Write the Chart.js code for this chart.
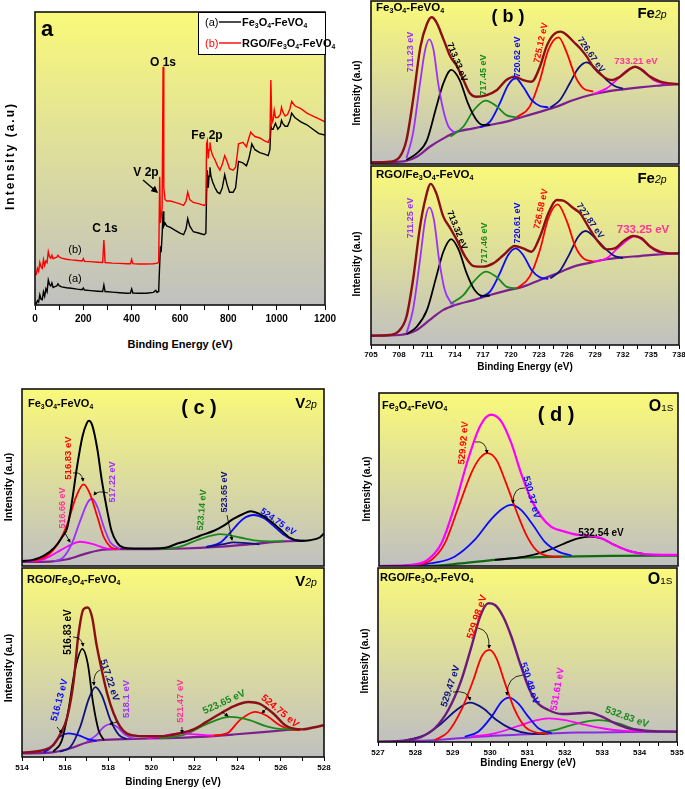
<!DOCTYPE html>
<html>
<head>
<meta charset="utf-8">
<script src="https://cdn.jsdelivr.net/npm/chart.js@4.4.1/dist/chart.umd.min.js"></script>
<style>
  html, body { margin: 0; padding: 0; background: #fff; overflow: hidden; }
  #page { position: relative; width: 685px; height: 789px; overflow: hidden; font-family: "Liberation Sans", Arial, sans-serif; }
  #page canvas { position: absolute; }
  .t { position: absolute; white-space: nowrap; font-weight: bold; line-height: 1; }
  .t sub { font-size: 62%; vertical-align: -0.3em; line-height: 0; }
  .nar { font-family: "Liberation Sans Narrow", "Arial Narrow", "Liberation Sans", sans-serif; font-stretch: condensed; }
  #legend { position: absolute; left: 198px; top: 12px; width: 126px; height: 41px; background: #fff; border: 1px solid #000; }
  #arrows { position: absolute; left: 0; top: 0; }
</style>
</head>
<body>
<div id="page"></div>
<script>
// --- Panel (a): survey spectra ---
const surveyX = [0, 5, 10, 15, 20, 25, 30, 35, 40, 45, 50, 55, 60, 65, 70, 75, 80, 90, 95, 100, 110, 130, 150, 175, 195, 200, 205, 230, 260, 280, 285, 290, 320, 350, 380, 395, 400, 405, 430, 460, 490, 500, 505, 510, 512, 516, 519, 522, 526, 530, 533, 538, 545, 560, 580, 600, 615, 625, 632, 640, 655, 680, 700, 707, 710, 713, 717, 720, 724, 728, 735, 745, 755, 765, 775, 785, 795, 805, 820, 830, 838, 842, 860, 875, 885, 893, 897, 910, 930, 950, 965, 972, 976, 980, 985, 990, 995, 1005, 1015, 1020, 1025, 1035, 1045, 1055, 1062, 1075, 1100, 1125, 1150, 1175, 1200];
const surveyA = [1.0, 0.3, 1.5, 1.0, 3.5, 2.0, 1.8, 4.5, 3.0, 5.5, 4.5, 8.5, 7.0, 6.5, 7.5, 6.0, 6.2, 6.5, 7.2, 6.6, 6.2, 5.9, 5.7, 5.4, 5.2, 5.8, 5.1, 4.9, 4.7, 4.6, 6.8, 4.6, 4.4, 4.2, 4.0, 4.1, 5.5, 4.1, 4.0, 4.0, 4.3, 5.0, 4.3, 4.6, 5.5, 14, 20, 18, 24, 32, 27, 28, 27, 26.5, 25.5, 24.5, 24, 26, 29.5, 27, 25, 24.5, 24, 24.5, 38, 46, 40, 44, 47, 44, 42, 40, 38.5, 38, 40, 44.5, 41, 38.5, 38.5, 40, 46, 49, 48.5, 47.5, 50, 53, 55, 53, 52, 51.5, 51, 53, 61, 60, 60, 61, 62, 60, 61, 63, 62, 61, 61, 63, 65.5, 64, 62.5, 61.5, 60, 58.5, 58];
const surveyB = [10.2, 10.5, 12.5, 11.5, 14.5, 13.0, 12.5, 15.5, 13.5, 15.0, 14.5, 18.2, 16.5, 16.0, 17.0, 15.8, 16.0, 16.3, 17.0, 16.4, 16.0, 15.6, 15.4, 15.2, 15.0, 15.8, 14.9, 14.8, 14.6, 14.5, 22.2, 14.5, 14.3, 14.2, 14.1, 14.1, 15.6, 14.1, 14.0, 14.0, 14.1, 14.2, 14.2, 14.5, 16.0, 43.8, 28, 30, 33, 81.3, 40, 36, 35.5, 35.5, 35, 34.5, 34, 35.5, 38.5, 36, 35, 34.5, 34, 34.5, 55, 56, 50, 53, 55.5, 53, 51, 49.5, 47.5, 46, 48, 51, 49, 46.5, 46, 47, 52, 55, 55.5, 54, 57, 59, 58.5, 57.5, 57, 56, 55.5, 57, 76.8, 62, 63, 66.5, 64, 64, 65, 67.5, 66, 64.5, 65, 67, 69.5, 68, 67, 65.5, 64.5, 63.5, 62.5];
const surveyTicks = [0, 200, 400, 600, 800, 1000, 1200];

// --- Panel (b): Fe 2p, [eV, intensity] ---
const feTicks = [705, 708, 711, 714, 717, 720, 723, 726, 729, 732, 735, 738];
const fe1Env = [[705,1],[707,1.4],[708.1,4.5],[708.8,14.7],[709.5,39],[710.3,72],[711,86],[711.5,90],[712,87],[712.8,76],[713.5,66],[714.2,60],[714.9,51.5],[715.6,43.4],[716.3,41.3],[717.4,42.3],[718.5,45.4],[719.5,51.5],[720.4,53.6],[721.3,51.5],[722.2,50.5],[723.1,59.7],[723.8,72],[724.5,79],[725.3,81.2],[726,79],[726.7,75],[727.4,71],[728.1,66],[728.8,59.7],[729.9,53.6],[730.8,51.5],[731.7,53.6],[732.6,57.7],[733.3,59.7],[734,57.7],[734.9,53.6],[736,50.5],[737,49.5],[738,49]];
const fe1Bg = [[705,1],[708.1,1.4],[709.9,4.5],[711.3,10.6],[713.1,16.8],[714.2,19.8],[716,21.9],[717.75,24],[719.5,26],[721.3,29],[723.1,32],[724.9,35.2],[726.7,39.3],[728.5,42.3],[730.25,44.4],[732,45.8],[733.8,47],[735.6,48],[738,49]];
const fe1P1 = [[708.8,3.5],[709.5,18.8],[710.25,49.5],[710.8,70],[711.25,76.5],[711.7,70],[712.2,49.5],[712.75,33],[713.3,23],[714,19.2]];
const fe1P2 = [[708.8,2.5],[709.9,6.5],[711,14.7],[712,35],[712.75,49.5],[713.6,57.7],[714.5,51.5],[715.4,37],[716.3,27],[717,24],[717.75,24]];
const fe1P3 = [[713.5,16.8],[714.9,23],[716,33],[717.3,38.9],[718.5,35.2],[719.5,30],[720.6,28.6]];
const fe1P4 = [[716.7,22.5],[717.75,26],[718.8,37.2],[719.7,48.5],[720.5,52.6],[721.3,47.4],[722.2,39.3],[723.1,35.6],[724,34.8]];
const fe1P5 = [[720.6,28.6],[722,35.2],[723.1,51.5],[724,70],[725.1,77.7],[726,67.9],[726.9,53.6],[727.75,46.4],[728.8,44.4]];
const fe1P6 = [[724.2,34.5],[725.25,39.3],[726.3,49.5],[727.2,58.7],[728.1,62.4],[729.2,57.7],[730.25,51.5],[731.1,47.9],[732,46.2]];
const fe1P7 = [[728.8,43],[730.25,46.4],[731.3,51.5],[732.4,57.3],[733.3,59.7],[734.2,57.3],[735.25,51.5],[736.3,49.5],[737.4,49]];

const fe2Env = [[705,5.2],[707,5.6],[707.9,7.4],[708.8,15.8],[709.5,36.3],[710.25,66],[710.8,81],[711.4,90],[712,84.7],[712.75,71.7],[713.5,65.2],[714.2,58.7],[715.1,49.3],[716,44.1],[717,43.8],[718.1,45.6],[719.2,50.3],[720.4,55.3],[721.3,54],[722.2,52.1],[723.1,60.5],[724,73.6],[724.9,81],[725.6,80.6],[726.7,76.4],[727.4,73.6],[728.3,66],[729.2,58.7],[730.25,53.4],[731.1,54],[732.2,58.7],[733.1,60.9],[734,59.6],[734.9,55],[736,52],[737,51.2],[738,51.2]];
const fe2Bg = [[705,5.2],[708.1,5.6],[709.9,8.4],[711.3,14],[712.75,19.6],[714,22.3],[716,25.1],[717.75,27.9],[719.5,30.4],[721.3,32.6],[723.1,36.3],[724.9,40],[726.7,43.8],[728.5,46],[730.25,47.9],[732,49],[733.8,49.7],[735.6,50.5],[738,51.2]];
const fe2P1 = [[708.8,6.5],[709.5,19.6],[710.25,47.5],[710.8,69.8],[711.25,76.9],[711.75,69.8],[712.3,47.5],[712.9,30.7],[713.5,24.2],[714,22.3]];
const fe2P2 = [[708.8,6.1],[709.9,10.2],[711,19.6],[712,38.2],[712.75,52.1],[713.6,59.2],[714.4,53.1],[715.25,40],[716.1,30.7],[717,27.4],[717.75,27.6]];
const fe2P3 = [[713.5,22.9],[714.9,27.9],[716,35.4],[717.3,41],[718.5,37.8],[719.5,32.6],[720.6,31.5]];
const fe2P4 = [[716.7,26.6],[717.75,29.8],[718.8,40],[719.7,50.3],[720.5,54],[721.3,50.3],[722.2,41.9],[723.1,37.8],[724,37]];
const fe2P5 = [[720.6,31.5],[722,38.2],[723.1,53.1],[724,70.8],[725,78.6],[726,68.9],[726.9,54.9],[727.75,48.4],[728.8,46.6]];
const fe2P6 = [[724.2,37.2],[725.25,41.5],[726.3,51.2],[727.2,60.5],[728,63.7],[729.2,58.7],[730.25,53.1],[731.1,49.7],[732,48.6]];
const fe2P7 = [[728.8,46.6],[730.25,48.4],[731.3,53.4],[732.4,58.3],[733.2,60.9],[734.2,58.3],[735.25,53.4],[736.3,51.2],[737.4,51]];

// --- Panel (c): V 2p ---
const vTicks = [514, 516, 518, 520, 522, 524, 526, 528];
const v1Data = [[514,2.8],[514.5,3.4],[515,5.7],[515.5,10.4],[515.85,16.1],[516.1,21.8],[516.3,35.1],[516.55,56],[516.8,73],[517,80.6],[517.1,82],[517.25,79.7],[517.5,65.5],[517.7,48.4],[517.95,31.3],[518.15,19.9],[518.4,13.3],[518.7,10.4],[519.2,9.9],[519.9,9.9],[520.7,10.4],[521.2,12.7],[521.65,14.2],[522.25,17.1],[522.9,19.9],[523.35,22.8],[523.8,26.6],[524.25,29.4],[524.6,30.9],[525,29.4],[525.5,25.6],[525.95,20.9],[526.4,16.1],[526.9,14.2],[527.35,14.6],[527.8,16.1],[528,18.4]];
const v1Bg = [[514,2.3],[515.3,2.5],[516.1,3.8],[516.85,6.6],[517.6,8.9],[518.4,9.5],[519.9,9.5],[521.5,9.9],[523,10.8],[524.6,12.3],[526.1,13.9],[527.1,14.2]];
const v1P1 = [[514.2,2.5],[515,3.8],[515.6,7.6],[516.1,11],[516.7,13.7],[517.3,12.3],[517.9,10],[518.55,9.5]];
const v1P2 = [[514.5,2.8],[515.15,5.7],[515.7,13.3],[516.1,23.7],[516.5,38.9],[516.85,46.1],[517.15,40.8],[517.5,27.5],[517.8,16.1],[518.1,10.8],[518.4,9.5]];
const v1P3 = [[515.5,2.8],[515.9,4.7],[516.3,12.3],[516.7,25.6],[517.05,36],[517.25,38],[517.5,33.2],[517.8,21.8],[518.1,13.3],[518.5,9.9]];
const v1P4 = [[520.4,9.5],[521.3,10.8],[522.25,15.2],[523.2,18],[524.1,16.1],[525,14.2],[526.1,13.9]];
const v1P5 = [[522.55,10.8],[523.35,12.3],[523.8,13.3],[524.4,12.9],[525,12.3]];
const v1P6 = [[522.55,10.8],[523.2,13.3],[523.8,20.9],[524.25,26.6],[524.75,28.8],[525.2,27.1],[525.65,22.8],[526.1,18],[526.6,14.8],[527,14.2]];

const v2Env = [[514,2.3],[515,3.7],[515.45,6.3],[515.75,11.6],[516.1,21.2],[516.4,40.5],[516.6,63.3],[516.85,78.2],[517.05,79.1],[517.25,73.9],[517.45,59.8],[517.7,45.8],[517.95,33.5],[518.25,23],[518.55,16],[518.85,12.5],[519.3,11.2],[520.1,11],[520.7,11.2],[521.3,12.5],[521.95,14.6],[522.55,18.6],[523.2,23],[523.8,26.8],[524.5,29.1],[525,28.2],[525.65,23],[526.2,16.8],[526.55,15.1],[527,14.6],[527.5,15.6],[528,16.8]];
const v2Bg = [[514,1.9],[515.3,2.3],[516.25,4.6],[517,7.7],[517.6,8.9],[519.2,9.6],[520.7,10],[522.25,10.7],[523.8,11.9],[525.3,13.3],[526.6,14.6]];
const v2P1 = [[515,2.5],[515.3,4.6],[515.75,10.7],[516.15,12.5],[516.6,11.6],[517.1,9.3],[517.45,8.6]];
const v2P2 = [[515.45,2.8],[515.85,8.9],[516.15,24.7],[516.45,45.8],[516.8,57.2],[517.05,49.3],[517.3,28.2],[517.55,14.2],[517.8,8.9]];
const v2P3 = [[515.75,2.8],[516.25,5.4],[516.7,16],[517.1,30.9],[517.4,37],[517.7,32.6],[518.1,19.5],[518.5,11.6],[518.85,9.5]];
const v2P4 = [[517,8.1],[517.45,11.6],[517.8,16],[518.1,17.4],[518.4,16],[518.8,11.6],[519.2,9.8]];
const v2P5 = [[519.8,9.8],[520.55,11.2],[521.3,12.5],[522.1,11.9],[522.9,11.2]];
const v2P6 = [[520.4,9.8],[521.6,12.1],[522.55,17.4],[523.65,21.2],[524.55,19.5],[525.3,16.3],[526.1,14.7],[526.9,14.6]];
const v2P7 = [[522.55,11.2],[523.5,12.5],[524.1,19.5],[524.8,23.9],[525.3,22.1],[525.95,16.8],[526.4,14.6],[526.9,14.2]];

// --- Panel (d): O 1s ---
const oTicks = [527, 528, 529, 530, 531, 532, 533, 534, 535];
const o1Env = [[527,0],[527.87,0.6],[528.3,3.5],[528.67,13.1],[529.02,34.4],[529.38,61.4],[529.7,80.7],[530,87.5],[530.27,83.6],[530.54,71],[530.8,53.7],[531.08,38.2],[531.34,28.6],[531.6,22.8],[531.97,19.9],[532.33,18],[532.64,17.6],[532.95,16],[533.3,12.2],[533.66,8.9],[534.1,6.9],[535,6.4]];
const o1Bg = [[527,0],[528.3,0],[529.2,1.5],[530.1,3.5],[531,5],[531.9,5.4],[533.2,5.8],[535,6]];
const o1P1 = [[527.87,0.2],[528.4,3.5],[528.76,13.1],[529.1,32.4],[529.47,53.7],[529.7,62.4],[529.9,65.3],[530.14,61.4],[530.4,47.9],[530.68,31.5],[530.94,18],[531.2,9.3],[531.52,5.8],[531.88,5.4]];
const o1P2 = [[527.87,0.2],[528.5,1.9],[529.02,5.4],[529.56,15.1],[530,27],[530.32,33.4],[530.54,35.3],[530.8,32.4],[531.12,23.7],[531.43,14.1],[531.8,8.3],[532.15,6]];
const o1P3 = [[530.1,3.5],[530.9,5.4],[531.43,8.3],[531.97,13.1],[532.33,16],[532.64,17],[532.95,16],[533.3,12.2],[533.66,8.9],[534.1,6.9]];

const o2Env = [[527,0.2],[527.7,0.8],[528.16,3],[528.52,7.9],[528.88,18.4],[529.23,35.6],[529.5,54.8],[529.73,72],[529.95,79.7],[530.13,78.7],[530.35,72],[530.57,60.5],[530.8,45.2],[531.02,31.8],[531.24,23.2],[531.56,18.4],[531.92,16.1],[532.36,16.5],[532.63,16.9],[532.99,14.6],[533.35,10.7],[533.7,7.9],[534.15,6.5],[535,5.9]];
const o2Bg = [[527,0],[528.34,0.8],[529.68,3],[531.02,4.4],[532.36,5.4],[533.7,5.7],[535,5.9]];
const o2P1 = [[527.7,0.8],[528.25,4],[528.7,10.7],[529.1,18.4],[529.46,22.6],[529.82,19.3],[530.17,12.6],[530.57,7.5],[531.02,5],[531.47,4.6]];
const o2P2 = [[528.52,1.1],[528.88,5.9],[529.23,18.4],[529.55,35.6],[529.77,49],[529.98,52.9],[530.17,48.1],[530.4,33.7],[530.66,18.4],[530.93,8.8],[531.24,5.4],[531.56,4.6]];
const o2P3 = [[529.32,3],[529.68,5.9],[530.04,14.6],[530.31,23.2],[530.51,25.5],[530.75,22.2],[531.02,14.6],[531.29,7.9],[531.65,5]];
const o2P4 = [[529.5,3],[530.13,5],[530.75,9.2],[531.2,12.3],[531.56,13.6],[532,12.6],[532.45,10.3],[532.99,7.9],[533.52,6.5],[534.15,5.9]];
const o2P5 = [[531.29,5],[531.74,6.9],[532.27,10.3],[532.9,12.6],[533.43,10.7],[533.88,7.3],[534.33,5.9]];

// --- Colours ---
const C = {
  env: '#8b0f14', bg: '#7d1f8e', violet: '#9b30ff', black: '#000000', green: '#1b8a1b',
  blue: '#0a0aff', red: '#ff0000', navy: '#101080', magenta: '#ff00ff', pink: '#ff3399',
  darkGreen: '#0f6a12', plum: '#6c1a7c', lilac: '#8a2be2'
};

const page = document.getElementById('page');
Chart.defaults.font.family = '"Liberation Sans", Arial, sans-serif';

const frame = {
  id: 'frame',
  beforeDraw(chart) {
    const { ctx, chartArea: a } = chart;
    const g = ctx.createLinearGradient(0, a.top, 0, a.bottom);
    g.addColorStop(0, '#f9f97a');
    g.addColorStop(1, '#c0c0c0');
    ctx.save();
    ctx.fillStyle = g;
    ctx.fillRect(a.left, a.top, a.right - a.left, a.bottom - a.top);
    ctx.restore();
  },
  afterDraw(chart) {
    const { ctx, chartArea: a } = chart;
    ctx.save();
    ctx.strokeStyle = '#111';
    ctx.lineWidth = 1.6;
    ctx.strokeRect(a.left, a.top, a.right - a.left, a.bottom - a.top);
    ctx.restore();
  }
};

const pts = arr => arr.map(([x, y]) => ({ x, y }));

function curve(arr, color, width) {
  return {
    data: pts(arr), borderColor: color, borderWidth: width || 1.8,
    pointRadius: 0, fill: false, cubicInterpolationMode: 'monotone'
  };
}

function panel(area, range, datasets, axis) {
  const padL = 20, padR = 20, padT = 4;
  const axisH = axis ? axis.h : 0;
  const w = area.r - area.l, h = area.b - area.t;
  const cv = document.createElement('canvas');
  cv.width = w + padL + padR;
  cv.height = h + padT + axisH + (axis ? 0 : 4);
  cv.style.left = (area.l - padL) + 'px';
  cv.style.top = (area.t - padT) + 'px';
  page.appendChild(cv);

  const x = { type: 'linear', min: range[0], max: range[1], display: !!axis };
  if (axis) {
    Object.assign(x, {
      afterFit: s => { s.height = axisH; },
      border: { display: false },
      grid: { drawOnChartArea: false, drawTicks: true, tickLength: axis.tick, color: '#000', lineWidth: 1 },
      ticks: {
        stepSize: axis.step, autoSkip: false, maxRotation: 0, minRotation: 0,
        padding: axis.pad, color: '#000',
        font: { size: axis.size, weight: 'bold', family: axis.family || undefined },
        callback: v => axis.labels.includes(v) ? String(v) : ''
      }
    });
  }

  return new Chart(cv, {
    type: 'line',
    data: { datasets },
    options: {
      responsive: false, animation: false, events: [],
      layout: { padding: { left: padL, right: padR, top: padT, bottom: axis ? 0 : 4 } },
      plugins: { legend: { display: false }, tooltip: { enabled: false } },
      scales: { x, y: { display: false, min: 0, max: 100 } }
    },
    plugins: [frame]
  });
}

// --- Charts ---
panel({ l: 35, t: 12, r: 325, b: 305 }, [0, 1200], [
  { data: surveyX.map((x, i) => ({ x, y: surveyB[i] })), borderColor: C.red, borderWidth: 1.4, pointRadius: 0, tension: 0 },
  { data: surveyX.map((x, i) => ({ x, y: surveyA[i] })), borderColor: C.black, borderWidth: 1.4, pointRadius: 0, tension: 0 }
], { h: 26, tick: 5, pad: 3, step: 100, size: 10, labels: surveyTicks, family: '"Liberation Sans Narrow", "Liberation Sans", sans-serif' });

panel({ l: 371, t: 1, r: 679, b: 164 }, [705, 738], [
  curve(fe1Env, C.env, 2.4), curve(fe1P1, C.violet), curve(fe1P2, C.black), curve(fe1P3, C.green),
  curve(fe1P4, C.blue), curve(fe1P5, C.red), curve(fe1P6, C.navy), curve(fe1P7, C.magenta), curve(fe1Bg, C.bg, 2.2)
]);

panel({ l: 371, t: 166, r: 679, b: 345 }, [705, 738], [
  curve(fe2Env, C.env, 2.4), curve(fe2P1, C.violet), curve(fe2P2, C.black), curve(fe2P3, C.green),
  curve(fe2P4, C.blue), curve(fe2P5, C.red), curve(fe2P6, C.navy), curve(fe2P7, C.magenta), curve(fe2Bg, C.bg, 2.2)
], { h: 16, tick: 4, pad: 1, step: 1.5, size: 8, labels: feTicks });

panel({ l: 22, t: 389, r: 324, b: 566 }, [514, 528], [
  curve(v1Data, C.black, 2), curve(v1P2, C.red), curve(v1P3, C.violet), curve(v1P1, C.magenta),
  curve(v1P4, C.green), curve(v1P5, C.navy), curve(v1P6, C.blue), curve(v1Bg, C.bg, 2.2)
]);

panel({ l: 22, t: 568, r: 324, b: 757 }, [514, 528], [
  curve(v2Env, C.env, 2.4), curve(v2P2, C.black), curve(v2P3, C.navy), curve(v2P1, C.blue),
  curve(v2P4, C.violet), curve(v2P5, C.magenta), curve(v2P6, C.green), curve(v2P7, C.red), curve(v2Bg, C.bg, 2.2)
], { h: 16, tick: 4, pad: 2, step: 1, size: 8, labels: vTicks });

panel({ l: 379, t: 393, r: 678, b: 566 }, [527, 535], [
  curve(o1Env, C.magenta, 2.2), curve(o1P1, C.red), curve(o1P2, C.blue), curve(o1P3, C.black), curve(o1Bg, C.darkGreen, 2.2)
]);

panel({ l: 378, t: 568, r: 677, b: 742 }, [527, 535], [
  curve(o2Env, C.plum, 2.4), curve(o2P2, C.red), curve(o2P1, C.navy), curve(o2P3, C.blue),
  curve(o2P4, C.magenta), curve(o2P5, C.green), curve(o2Bg, C.lilac, 2)
], { h: 16, tick: 4, pad: 2, step: 0.5, size: 8, labels: oTicks });

// --- Text ---
function txt(x, y, html, o = {}) {
  const d = document.createElement('div');
  d.className = 't' + (o.cls ? ' ' + o.cls : '');
  d.innerHTML = html;
  d.style.left = x + 'px';
  d.style.top = y + 'px';
  d.style.fontSize = (o.size || 9) + 'px';
  d.style.color = o.color || '#000';
  if (o.weight) d.style.fontWeight = o.weight;
  if (o.spacing) d.style.letterSpacing = o.spacing + 'px';
  d.style.transform = `translate(${o.left ? '0' : '-50%'},-50%) rotate(${o.rot || 0}deg)`;
  page.appendChild(d);
  return d;
}

const FE = 'Fe<sub>3</sub>O<sub>4</sub>-FeVO<sub>4</sub>';
const RGO = 'RGO/' + FE;
const INT = 'Intensity (a.u)';
const BE = 'Binding Energy (eV)';
const el = (a, b) => `${a}<span style="font-size:70%;font-style:italic;font-weight:normal">${b}</span>`;
const o1s = `O<span style="font-size:62%;font-weight:normal">1S</span>`;

// panel a
txt(47, 29, 'a', { size: 22 });
txt(163, 62, 'O 1s', { size: 12, cls: 'nar' });
txt(207, 135, 'Fe 2p', { size: 12, cls: 'nar' });
txt(146, 172, 'V 2p', { size: 12, cls: 'nar' });
txt(105, 228, 'C 1s', { size: 12, cls: 'nar' });
txt(75, 249, '(b)', { size: 11, weight: 'normal', cls: 'nar' });
txt(75, 278, '(a)', { size: 11, weight: 'normal', cls: 'nar' });
txt(10, 156, INT, { size: 12, rot: -90, spacing: 2, cls: 'nar' });
txt(180, 344, BE, { size: 11 });

const legend = document.createElement('div');
legend.id = 'legend';
page.appendChild(legend);
txt(205, 22, '(a)', { size: 11, weight: 'normal', cls: 'nar', left: true });
txt(242, 22, FE, { size: 11, cls: 'nar', left: true });
txt(205, 43, '(b)', { size: 11, weight: 'normal', cls: 'nar', left: true, color: C.red });
txt(242, 43, RGO, { size: 11, cls: 'nar', left: true });

// panel b
txt(376, 8, FE, { size: 11.5, left: true });
txt(508, 16, '( b )', { size: 18 });
txt(652, 12, el('Fe', '2p'), { size: 15 });
txt(376, 175, RGO, { size: 11.5, left: true });
txt(652, 177, el('Fe', '2p'), { size: 15 });
txt(357, 93, INT, { size: 10, rot: -90 });
txt(357, 264, INT, { size: 10, rot: -90 });
txt(525, 367, BE, { size: 10 });

txt(410, 52, '711.23 eV', { color: C.violet, rot: -90 });
txt(457, 62, '713.33 eV', { rot: 68 });
txt(483, 75, '717.45 eV', { color: C.green, rot: -90 });
txt(517, 57, '720.62 eV', { color: C.blue, rot: -90 });
txt(541, 43, '725.12 eV', { color: C.red, rot: -78 });
txt(591, 55, '726.67 eV', { color: C.navy, rot: 55 });
txt(636, 61, '733.21 eV', { color: C.pink, size: 9.5 });

txt(410, 218, '711.25 eV', { color: C.violet, rot: -90 });
txt(457, 230, '713.32 eV', { rot: 68 });
txt(484, 243, '717.46 eV', { color: C.green, rot: -90 });
txt(517, 223, '720.61 eV', { color: C.blue, rot: -90 });
txt(541, 209, '726.58 eV', { color: C.red, rot: -78 });
txt(590, 221, '727.87 eV', { color: C.navy, rot: 55 });
txt(643, 230, '733.25 eV', { color: C.pink, size: 11.5 });

// panel c
txt(28, 403, FE, { size: 11, left: true });
txt(199, 407, '( c )', { size: 20 });
txt(306, 402, el('V', '2p'), { size: 15 });
txt(27, 579, RGO, { size: 11, left: true });
txt(306, 580, el('V', '2p'), { size: 15 });
txt(8, 487, INT, { size: 10.5, rot: -90 });
txt(8, 668, INT, { size: 10.5, rot: -90 });
txt(173, 782, BE, { size: 10 });

txt(62, 508, '516.66 eV', { color: C.pink, rot: -90 });
txt(68, 458, '516.83 eV', { color: C.red, rot: -90, size: 9.5 });
txt(112, 482, '517.22 eV', { color: C.violet, rot: -90 });
txt(202, 510, '523.14 eV', { color: C.green, rot: -85 });
txt(224, 492, '523.65 eV', { color: C.navy, rot: -90 });
txt(278, 522, '524.75 eV', { color: C.blue, rot: 35 });

txt(59, 700, '516.13 eV', { color: C.blue, rot: -75, size: 9.5 });
txt(68, 632, '516.83 eV', { rot: -90, size: 10 });
txt(110, 680, '517.22 eV', { color: C.navy, rot: 72, size: 9.5 });
txt(126, 699, '518.1 eV', { color: C.violet, rot: -90, size: 9.5 });
txt(180, 701, '521.47 eV', { color: C.pink, rot: -90, size: 9.5 });
txt(224, 702, '523.65 eV', { color: C.green, rot: -25, size: 10 });
txt(280, 711, '524.75 eV', { color: C.red, rot: 40, size: 10 });

// panel d
txt(382, 405, FE, { size: 11, left: true });
txt(556, 414, '( d )', { size: 20 });
txt(661, 406, o1s, { size: 16 });
txt(380, 577, RGO, { size: 11, left: true });
txt(660, 579, o1s, { size: 16 });
txt(367, 489, INT, { size: 10, rot: -90 });
txt(365, 661, INT, { size: 10, rot: -90 });
txt(528, 763, BE, { size: 10 });

txt(463, 443, '529.92 eV', { color: C.red, rot: -85, size: 9.5 });
txt(532, 497, '530.37 eV', { color: C.blue, rot: 75, size: 9.5 });
txt(601, 533, '532.54 eV', { size: 10 });

txt(450, 686, '529.47 eV', { color: C.navy, rot: -72, size: 9.5 });
txt(477, 617, '529.98 eV', { color: C.red, rot: -72, size: 10 });
txt(530, 683, '530.48 eV', { color: C.blue, rot: 72, size: 9.5 });
txt(557, 689, '531.61 eV', { color: C.magenta, rot: -80, size: 9.5 });
txt(627, 717, '532.83 eV', { color: C.green, rot: 20, size: 10 });

// --- Arrows ---
const arrowPaths = [
  'M143 180 L157 192',
  'M219 22 L241 22', 'M219 43 L241 43',
  'M73 473 Q82 471 83 481', 'M108 493 Q98 490 94 495', 'M65 533 L70 542', 'M227 515 L232 540',
  'M73 637 Q82 637 83 646', 'M100 670 Q93 673 94 685', 'M57 727 L62 733', 'M117 722 L110 724',
  'M182 727 L182 733', 'M222 712 L228 716', 'M267 708 L262 713',
  'M475 442 Q486 440 487 453', 'M525 488 Q513 487 513 503',
  'M478 628 Q490 630 489 648', 'M523 675 Q507 676 507 695', 'M453 692 Q468 690 470 700'
];
const ns = 'http://www.w3.org/2000/svg';
const svg = document.createElementNS(ns, 'svg');
svg.setAttribute('id', 'arrows');
svg.setAttribute('width', 685);
svg.setAttribute('height', 789);
svg.innerHTML = '<defs><marker id="ah" markerWidth="5" markerHeight="5" refX="4" refY="2.5" orient="auto"><path d="M0,0 L5,2.5 L0,5 z" fill="#000"/></marker></defs>';
arrowPaths.forEach((d, i) => {
  const p = document.createElementNS(ns, 'path');
  p.setAttribute('d', d);
  p.setAttribute('fill', 'none');
  p.setAttribute('stroke', i === 2 ? C.red : '#000');
  p.setAttribute('stroke-width', i < 3 ? 1.4 : 0.8);
  if (i === 0 || i > 2) p.setAttribute('marker-end', 'url(#ah)');
  svg.appendChild(p);
});
page.appendChild(svg);
</script>
</body>
</html>
